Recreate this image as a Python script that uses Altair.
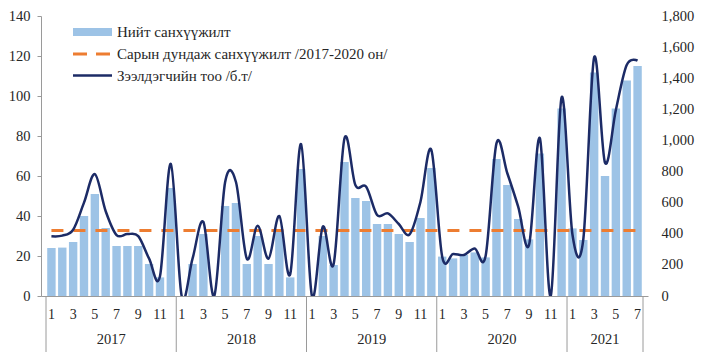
import altair as alt
import pandas as pd

# ---- data ----
years = [2017] * 12 + [2018] * 12 + [2019] * 12 + [2020] * 12 + [2021] * 7
months = list(range(1, 13)) * 4 + list(range(1, 8))

funding = [
    24, 24.2, 27, 40, 51, 34, 25, 25, 25, 16, 9.3, 54,            # 2017
    0, 16, 31, 0, 45, 46.5, 16, 30, 16, 33, 9.3, 63.5,            # 2018
    0, 30, 15.5, 67, 49, 47.5, 36, 36, 31, 27, 39, 64,            # 2019
    19.7, 18.8, 20.5, 21.8, 19.3, 68.5, 55.5, 38.5, 28.3, 71.3, 0, 93.8,  # 2020
    33.8, 28, 111.7, 60, 93.8, 107.7, 115,                        # 2021
]
borrowers = [
    384, 388, 426, 600, 783, 545, 392, 398, 385, 240, 127, 849,   # 2017
    0, 240, 476, 0, 731, 733, 240, 452, 240, 514, 141, 977,       # 2018
    0, 446, 206, 1014, 714, 703, 521, 531, 463, 396, 606, 939,    # 2019
    253, 270, 264, 306, 257, 981, 789, 574, 328, 1014, 0, 1277,   # 2020
    395, 364, 1534, 857, 1196, 1485, 1513,                        # 2021
]
avg_funding = 32.7

legend_labels = [
    "Нийт санхүүжилт",
    "Сарын дундаж санхүүжилт /2017-2020 он/",
    "Зээлдэгчийн тоо /б.т/",
]
left_ticks = list(range(0, 141, 20))
right_ticks = list(range(0, 1801, 200))

# ---- tables ----
df = pd.DataFrame({
    "i": list(range(len(funding))),
    "year": years,
    "month": months,
    "funding": funding,
    "borrowers": borrowers,
    "avg": [avg_funding] * len(funding),
})
df_months = df[df["month"] % 2 == 1]
df_years = df.groupby("year", as_index=False)["i"].mean()
bounds = sorted(set((df.groupby("year")["i"].min() - 0.5).tolist() + [df["i"].max() + 0.5]))
df_bounds = pd.DataFrame({"i": bounds})

# ---- styles ----
FONT = "Liberation Serif, Times New Roman, serif"
TXT = "#262626"
BAR = "#9dc3e6"
ORANGE = "#ed7d31"
NAVY = "#1c2b66"
W, H = 607, 280

xs = alt.Scale(domain=[-0.5, len(funding) - 0.5], nice=False, zero=False)
xaxis = alt.Axis(labels=False, ticks=False, grid=False, title=None,
                 domainColor="#9a9a9a", domainWidth=1)
X = alt.X("i:Q", scale=xs, axis=xaxis)

ls = alt.Scale(domain=[0, 140], nice=False)
laxis = alt.Axis(values=left_ticks, title=None, grid=False, tickSize=4,
                 labelPadding=7, domainColor="#9a9a9a", tickColor="#9a9a9a",
                 labelFont=FONT, labelFontSize=14.5, labelColor=TXT)

bars = alt.Chart(df).mark_bar(color=BAR, width=8.4).encode(
    x=X, y=alt.Y("funding:Q", scale=ls, axis=laxis))

avg_line = alt.Chart(df).mark_line(color=ORANGE, strokeWidth=3, strokeDash=[12, 10]).encode(
    x=X, y=alt.Y("avg:Q", scale=ls, axis=laxis))

month_text = alt.Chart(df_months).mark_text(font=FONT, fontSize=14, color=TXT,
                                            baseline="middle").encode(
    x=X, y=alt.value(H + 19), text="month:N")

year_text = alt.Chart(df_years).mark_text(font=FONT, fontSize=14.5, color=TXT,
                                          baseline="middle").encode(
    x=X, y=alt.value(H + 44), text="year:N")

seps = alt.Chart(df_bounds).mark_rule(color="#9a9a9a", strokeWidth=1).encode(
    x=X, y=alt.value(H), y2=alt.value(H + 56))

# manual legend (top-left inside plot)
leg_rect = alt.Chart(pd.DataFrame({"k": [0]})).mark_rect(color=BAR).encode(
    x=alt.value(32), x2=alt.value(71), y=alt.value(12), y2=alt.value(20))
leg_dash = alt.Chart(pd.DataFrame({"k": [0]})).mark_rule(
    color=ORANGE, strokeWidth=3, strokeDash=[14, 9]).encode(
    x=alt.value(32), x2=alt.value(71), y=alt.value(38))
leg_line = alt.Chart(pd.DataFrame({"k": [0]})).mark_rule(
    color=NAVY, strokeWidth=2.5).encode(
    x=alt.value(32), x2=alt.value(71), y=alt.value(59.5))
leg_texts = [
    alt.Chart(pd.DataFrame({"label": [lab]})).mark_text(
        font=FONT, fontSize=15, color=TXT, align="left", baseline="middle").encode(
        x=alt.value(76), y=alt.value(yy), text="label:N")
    for lab, yy in zip(legend_labels, [16, 38, 59.5])
]

left = alt.layer(bars, avg_line, month_text, year_text, seps,
                 leg_rect, leg_dash, leg_line, *leg_texts)

rs = alt.Scale(domain=[0, 1800], nice=False)
raxis = alt.Axis(orient="right", values=right_ticks, format=",.0f", title=None,
                 grid=False, domain=False, ticks=False, labelPadding=13,
                 labelFont=FONT, labelFontSize=14.5, labelColor=TXT)
line = alt.Chart(df).mark_line(color=NAVY, strokeWidth=2.5, interpolate="cardinal",
                               clip=True).encode(
    x=X, y=alt.Y("borrowers:Q", scale=rs, axis=raxis))

chart = alt.layer(left, line).resolve_scale(y="independent").properties(
    width=W, height=H,
    padding={"left": 33, "top": 8, "right": 50, "bottom": 56},
    autosize=alt.AutoSizeParams(type="none"),
    background="white",
).configure_view(stroke=None)

chart.save("out.html", embed_options={"renderer": "svg", "actions": False})
